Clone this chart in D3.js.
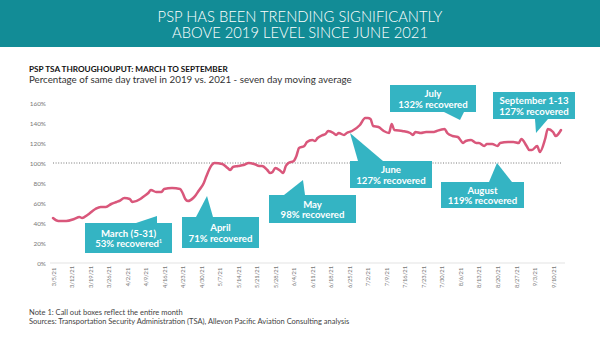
<!DOCTYPE html>
<html>
<head>
<meta charset="utf-8">
<script src="https://cdn.jsdelivr.net/npm/d3@7"></script>
<style>
  html, body { margin: 0; padding: 0; background: #fff; }
  svg { display: block; }
</style>
</head>
<body>
<svg id="chart" width="600" height="338"></svg>
<script>
// PSP TSA throughput, seven-day moving average, % of same day in 2019
const dates = [
  "2021-03-05","2021-03-07","2021-03-10","2021-03-13","2021-03-15","2021-03-16","2021-03-18",
  "2021-03-21","2021-03-23","2021-03-25","2021-03-27","2021-03-29","2021-03-30","2021-04-01",
  "2021-04-03","2021-04-04","2021-04-07","2021-04-08","2021-04-10","2021-04-11","2021-04-13",
  "2021-04-15","2021-04-16","2021-04-19","2021-04-22","2021-04-23","2021-04-24","2021-04-25",
  "2021-04-27","2021-04-28","2021-04-29","2021-05-01","2021-05-02","2021-05-04","2021-05-05",
  "2021-05-08","2021-05-10","2021-05-11","2021-05-12","2021-05-14","2021-05-16","2021-05-18",
  "2021-05-20","2021-05-22","2021-05-23","2021-05-25","2021-05-26","2021-05-27","2021-05-28",
  "2021-05-30","2021-05-31","2021-06-01","2021-06-02","2021-06-04","2021-06-05","2021-06-06",
  "2021-06-08","2021-06-09","2021-06-11","2021-06-12","2021-06-13","2021-06-15","2021-06-16",
  "2021-06-17","2021-06-19","2021-06-20","2021-06-21","2021-06-23","2021-06-24","2021-06-26",
  "2021-06-29","2021-07-01","2021-07-02","2021-07-03","2021-07-04","2021-07-06","2021-07-08",
  "2021-07-10","2021-07-11","2021-07-12","2021-07-15","2021-07-18","2021-07-19","2021-07-20",
  "2021-07-22","2021-07-24","2021-07-27","2021-07-28","2021-07-31","2021-08-01","2021-08-03",
  "2021-08-05","2021-08-07","2021-08-08","2021-08-10","2021-08-12","2021-08-13","2021-08-15",
  "2021-08-16","2021-08-18","2021-08-20","2021-08-21","2021-08-24","2021-08-26","2021-08-28",
  "2021-08-29","2021-08-31","2021-09-01","2021-09-02","2021-09-04","2021-09-05","2021-09-07",
  "2021-09-08","2021-09-10","2021-09-11","2021-09-13"
];
const recovery = [
  45, 42, 42, 44, 46, 45, 48,
  54, 56, 56, 59, 61, 62, 65,
  64, 61, 64, 66, 70, 73, 71,
  71, 74, 75, 74, 70, 64, 62,
  65, 68, 72, 80, 87, 98, 100,
  99, 95, 93, 96, 97, 98, 100,
  99, 97, 97, 93, 90, 91, 95,
  92, 90, 97, 100, 102, 107, 115,
  117, 121, 123, 122, 125, 128, 129,
  132, 130, 128, 130, 128, 130, 132,
  138, 145, 145, 144, 137, 136, 132,
  130, 139, 133, 132, 130, 128, 131,
  130, 131, 131, 132, 134, 130, 127,
  126, 120, 122, 123, 120, 120, 117,
  119, 119, 117, 120, 121, 121, 120,
  124, 117, 113, 113, 117, 111, 124,
  134, 131, 127, 133
];

// Weekly axis labels
const tickLabels = [
  "3/5/21","3/12/21","3/19/21","3/26/21","4/2/21","4/9/21","4/16/21","4/23/21",
  "4/30/21","5/7/21","5/14/21","5/21/21","5/28/21","6/4/21","6/11/21","6/18/21",
  "6/25/21","7/2/21","7/9/21","7/16/21","7/23/21","7/30/21","8/6/21","8/13/21",
  "8/20/21","8/27/21","9/3/21","9/10/21"
];
const yTicks = [0, 20, 40, 60, 80, 100, 120, 140, 160];

// Monthly call-outs
const calloutTitles = ["March (5-31)", "April", "May", "June", "July", "August", "September 1-13"];
const calloutValues = [53, 71, 98, 127, 132, 119, 127];

const parse = d3.timeParse("%Y-%m-%d");
const parseTick = d3.timeParse("%m/%d/%y");
const series = dates.map((d, i) => ({ date: parse(d), value: recovery[i] }));

const svg = d3.select("#chart");
const W = 600;

const teal = "#128c96";
const boxTeal = "#34b4c3";
const lineColor = "#d9577b";
const font = "Lato, 'Open Sans', sans-serif";

// Scale a text's font size so its run spans the given width
function fitWidth(sel, width) {
  const len = sel.node().getComputedTextLength();
  if (len > 0) sel.attr("font-size", +sel.attr("font-size") * width / len);
  return sel;
}

// Title band
svg.append("rect").attr("x", 0).attr("y", 0).attr("width", W).attr("height", 47).attr("fill", teal);
fitWidth(svg.append("text").attr("x", W / 2).attr("y", 21.5).attr("text-anchor", "middle")
  .attr("font-family", font).attr("font-weight", 300).attr("font-size", 13).attr("fill", "#fff")
  .text("PSP HAS BEEN TRENDING SIGNIFICANTLY"), 285);
fitWidth(svg.append("text").attr("x", W / 2).attr("y", 38).attr("text-anchor", "middle")
  .attr("font-family", font).attr("font-weight", 300).attr("font-size", 13).attr("fill", "#fff")
  .text("ABOVE 2019 LEVEL SINCE JUNE 2021"), 256);

// Chart heading
fitWidth(svg.append("text").attr("x", 29).attr("y", 72).attr("font-family", font)
  .attr("font-size", 7).attr("font-weight", 700).attr("fill", "#111")
  .text("PSP TSA THROUGHOUPUT: MARCH TO SEPTEMBER"), 199);
fitWidth(svg.append("text").attr("x", 29).attr("y", 82.5).attr("font-family", font)
  .attr("font-size", 8).attr("fill", "#333")
  .text("Percentage of same day travel in 2019 vs. 2021 - seven day moving average"), 323);

// Scales
const x = d3.scaleTime()
  .domain([parse("2021-03-05"), parse("2021-09-13")])
  .range([53, 561]);
const y = d3.scaleLinear().domain([0, 160]).range([263, 103]);

// Y axis labels (no axis line)
const yAxis = d3.axisLeft(y).tickValues(yTicks).tickFormat(d => d + "%").tickSize(0).tickPadding(0);
svg.append("g").attr("transform", "translate(46,0)").call(yAxis)
  .call(g => g.select(".domain").remove())
  .call(g => g.selectAll("text").attr("font-family", font).attr("font-size", 6.4).attr("fill", "#777"));

// X axis baseline
svg.append("line").attr("x1", 50).attr("x2", 565).attr("y1", y(0)).attr("y2", y(0))
  .attr("stroke", "#dcdcdc").attr("stroke-width", 0.8);

// X axis labels, rotated
const xAxis = d3.axisBottom(x).tickValues(tickLabels.map(parseTick))
  .tickFormat((d, i) => tickLabels[i]).tickSize(0).tickPadding(0);
const gx = svg.append("g").attr("transform", `translate(0,${y(0)})`).call(xAxis);
gx.select(".domain").remove();
gx.selectAll("text")
  .attr("font-family", font).attr("font-size", 5.8).attr("fill", "#777")
  .attr("text-anchor", "middle").attr("dy", 0)
  .attr("transform", "translate(2,14) rotate(-90)")
  .attr("y", 0).attr("x", 0);

// 100% reference line
svg.append("line").attr("x1", 53).attr("x2", 562).attr("y1", y(100)).attr("y2", y(100))
  .attr("stroke", "#555").attr("stroke-width", 0.8).attr("stroke-dasharray", "1,1.6");

// Recovery line
const line = d3.line().x(d => x(d.date)).y(d => y(d.value)).curve(d3.curveMonotoneX);
svg.append("path").datum(series).attr("d", line)
  .attr("fill", "none").attr("stroke", lineColor).attr("stroke-width", 2.5)
  .attr("stroke-linejoin", "round").attr("stroke-linecap", "round");

// Call-out layout: box [x, y, w, h] and pointer triangle
const calloutLayout = [
  { box: [85, 223, 87, 30], ptr: [[136, 223], [157, 216], [157, 223]], sup: true },
  { box: [182, 217, 77, 31], ptr: [[196, 217], [207, 196], [213, 217]] },
  { box: [269, 195, 87, 28], ptr: [[284, 195], [303, 180], [305, 195]] },
  { box: [350, 161, 82, 27], ptr: [[358, 161], [350, 133], [383, 161]] },
  { box: [390, 85, 86, 27], ptr: [[444, 112], [460, 120], [464, 112]] },
  { box: [441, 182, 83, 26], ptr: [[489, 182], [497, 163], [512, 182]] },
  { box: [493, 92, 82, 27], ptr: [[535, 119], [536, 133], [548, 119]] }
];

const callouts = svg.append("g");
calloutLayout.forEach((c, i) => {
  const [bx, by, bw, bh] = c.box;
  callouts.append("rect").attr("x", bx).attr("y", by).attr("width", bw).attr("height", bh).attr("fill", boxTeal);
  callouts.append("path").attr("d", "M" + c.ptr.map(p => p.join(",")).join("L") + "Z").attr("fill", boxTeal);
  const cx = bx + bw / 2;
  const mid = by + bh / 2;
  callouts.append("text").attr("x", cx).attr("y", mid - 1.3).attr("text-anchor", "middle")
    .attr("font-family", font).attr("font-size", 9.6).attr("font-weight", 700).attr("fill", "#fff")
    .text(calloutTitles[i]);
  const t2 = callouts.append("text").attr("x", cx).attr("y", mid + 9).attr("text-anchor", "middle")
    .attr("font-family", font).attr("font-size", 9.6).attr("font-weight", 700).attr("fill", "#fff")
    .text(calloutValues[i] + "% recovered");
  if (c.sup) t2.append("tspan").attr("font-size", 5).attr("dy", -4).text("1");
});

// Footnotes
fitWidth(svg.append("text").attr("x", 29).attr("y", 315).attr("font-family", font)
  .attr("font-size", 7).attr("fill", "#444")
  .text("Note 1: Call out boxes reflect the entire month"), 154);
fitWidth(svg.append("text").attr("x", 29).attr("y", 323.5).attr("font-family", font)
  .attr("font-size", 7).attr("fill", "#444")
  .text("Sources: Transportation Security Administration (TSA), Allevon Pacific Aviation Consulting analysis"), 321);
</script>
</body>
</html>
